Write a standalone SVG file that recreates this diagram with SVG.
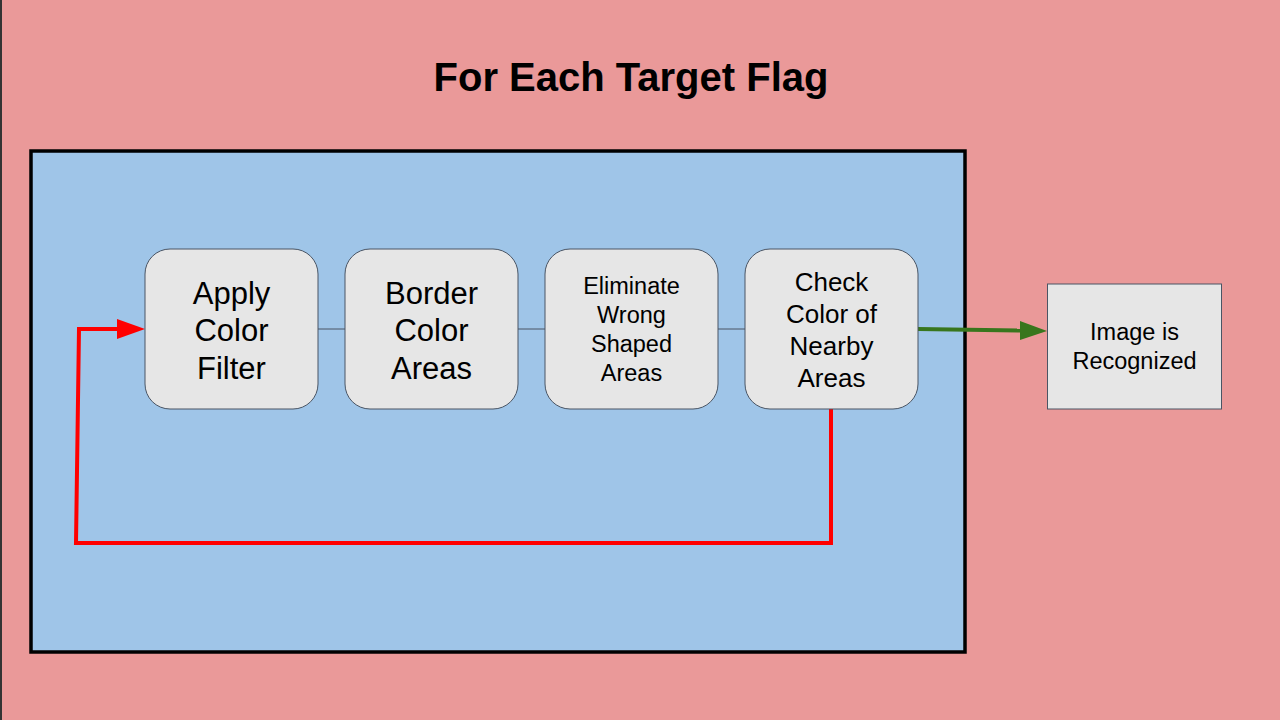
<svg xmlns="http://www.w3.org/2000/svg" width="1280" height="720" viewBox="0 0 1280 720">
<defs>
<style>
.node rect{fill:#e6e6e6;stroke:#4a5564;stroke-width:1}
.t{font-family:"Liberation Sans",Arial,sans-serif;fill:#000;text-anchor:middle}
</style>
</defs>
<rect x="0" y="0" width="1280" height="720" fill="#ea9999"/>
<rect x="0" y="0" width="2" height="720" fill="#333"/>
<text class="t" x="631" y="91" font-size="40" font-weight="bold">For Each Target Flag</text>
<rect id="container" x="31" y="151" width="934" height="501" fill="#9fc5e8" stroke="#000" stroke-width="3.5"/>
<g id="connectors">
<line x1="318" y1="329" x2="345" y2="329" stroke="#4a5564" stroke-width="1"/>
<line x1="518" y1="329" x2="545" y2="329" stroke="#4a5564" stroke-width="1"/>
<line x1="718" y1="329" x2="745" y2="329" stroke="#4a5564" stroke-width="1"/>
<path d="M831,409 L831,543 L76,543 L79,329 L119,329" fill="none" stroke="#ff0000" stroke-width="4" stroke-linejoin="miter"/>
<path d="M117,319 L145,329 L117,339 Z" fill="#ff0000"/>
<path d="M918,329 L1022,330.5" fill="none" stroke="#38761d" stroke-width="4"/>
<path d="M1020,321 L1047,331 L1020,340 Z" fill="#38761d"/>
</g>
<g id="n1" class="node">
<rect x="145" y="249" width="173" height="160" rx="25"/>
<text class="t" font-size="31"><tspan x="231.5" y="304">Apply</tspan><tspan x="231.5" y="341">Color</tspan><tspan x="231.5" y="379">Filter</tspan></text>
</g>
<g id="n2" class="node">
<rect x="345" y="249" width="173" height="160" rx="25"/>
<text class="t" font-size="31"><tspan x="431.5" y="304">Border</tspan><tspan x="431.5" y="341">Color</tspan><tspan x="431.5" y="379">Areas</tspan></text>
</g>
<g id="n3" class="node">
<rect x="545" y="249" width="173" height="160" rx="25"/>
<text class="t" font-size="23.5"><tspan x="631.5" y="294">Eliminate</tspan><tspan x="631.5" y="323">Wrong</tspan><tspan x="631.5" y="352">Shaped</tspan><tspan x="631.5" y="381">Areas</tspan></text>
</g>
<g id="n4" class="node">
<rect x="745" y="249" width="173" height="160" rx="25"/>
<text class="t" font-size="26"><tspan x="831.5" y="291">Check</tspan><tspan x="831.5" y="323">Color of</tspan><tspan x="831.5" y="355">Nearby</tspan><tspan x="831.5" y="387">Areas</tspan></text>
</g>
<g id="n5" class="node">
<rect x="1047.5" y="284" width="174" height="125" rx="0"/>
<text class="t" font-size="23.5"><tspan x="1134.5" y="340">Image is</tspan><tspan x="1134.5" y="369">Recognized</tspan></text>
</g>
</svg>
